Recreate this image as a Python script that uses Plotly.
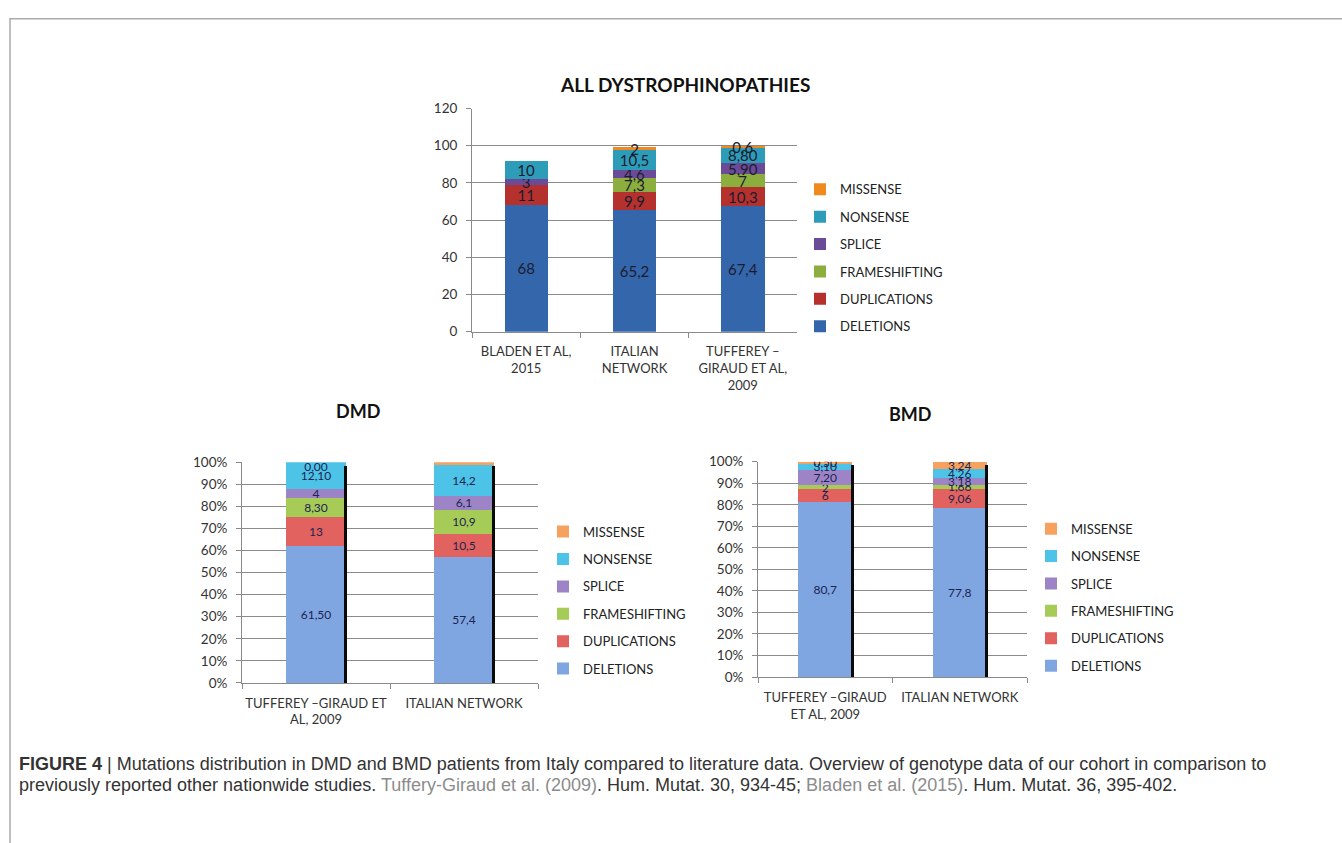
import plotly.graph_objects as go

W, H = 1342, 843

series = ["DELETIONS", "DUPLICATIONS", "FRAMESHIFTING", "SPLICE", "NONSENSE", "MISSENSE"]

# ALL DYSTROPHINOPATHIES
all_cats = ["BLADEN ET AL,<br>2015", "ITALIAN<br>NETWORK", "TUFFEREY –<br>GIRAUD ET AL,<br>2009"]
all_deletions = [68, 65.2, 67.4]
all_duplications = [11, 9.9, 10.3]
all_frameshifting = [None, 7.3, 7]
all_splice = [3, 4.6, 5.9]
all_nonsense = [10, 10.5, 8.8]
all_missense = [None, 2, 0.6]
all_labels = [["68", "65,2", "67,4"], ["11", "9,9", "10,3"], ["", "7,3", "7"],
              ["3", "4,6", "5,90"], ["10", "10,5", "8,80"], ["", "2", "0,6"]]

# DMD
dmd_cats = ["TUFFEREY –GIRAUD ET<br>AL, 2009", "ITALIAN NETWORK"]
dmd_deletions = [61.5, 57.4]
dmd_duplications = [13, 10.5]
dmd_frameshifting = [8.3, 10.9]
dmd_splice = [4, 6.1]
dmd_nonsense = [12.1, 14.2]
dmd_missense = [0.0, 1.2]
dmd_labels = [["61,50", "57,4"], ["13", "10,5"], ["8,30", "10,9"],
              ["4", "6,1"], ["12,10", "14,2"], ["0,00", "1,2"]]

# BMD
bmd_cats = ["TUFFEREY –GIRAUD<br>ET AL, 2009", "ITALIAN NETWORK"]
bmd_deletions = [80.7, 77.8]
bmd_duplications = [6, 9.06]
bmd_frameshifting = [2, 1.66]
bmd_splice = [7.2, 3.18]
bmd_nonsense = [3.1, 4.26]
bmd_missense = [0.5, 3.24]
bmd_labels = [["80,7", "77,8"], ["6", "9,06"], ["2", "1,66"],
              ["7,20", "3,18"], ["3,10", "4,26"], ["0,50", "3,24"]]

dark_colors = ["#3466AB", "#B5312E", "#8BAE3E", "#6B4B98", "#2C9CB9", "#F08A1E"]
light_colors = ["#80A6E2", "#E2625F", "#A6CB57", "#9C84C6", "#4EC3E8", "#F6A25E"]

FONT = "Lato"
GRID = "#8a8a8a"


def px_x(p):
    return p / W


def px_y(p):
    return 1 - p / H


fig = go.Figure()

all_vals = [all_deletions, all_duplications, all_frameshifting, all_splice, all_nonsense, all_missense]
for i, name in enumerate(series):
    fig.add_trace(go.Bar(
        x=all_cats, y=all_vals[i], name=name, marker=dict(color=dark_colors[i], line=dict(width=0)),
        text=all_labels[i], textposition="inside", insidetextanchor="middle", textangle=0,
        constraintext="none", textfont=dict(family=FONT, size=15, color="#1c1c30"),
        width=0.4, xaxis="x", yaxis="y", legend="legend", legendgroup="a" + name,
        legendrank=10 * (6 - i), hoverinfo="name+y"))


def percent(vals):
    tot = [sum(v[j] for v in vals) for j in range(len(vals[0]))]
    return [[v[j] / tot[j] * 100 for j in range(len(tot))] for v in vals]


dmd_raw = [dmd_deletions, dmd_duplications, dmd_frameshifting, dmd_splice, dmd_nonsense, dmd_missense]
bmd_raw = [bmd_deletions, bmd_duplications, bmd_frameshifting, bmd_splice, bmd_nonsense, bmd_missense]
dmd_vals = percent(dmd_raw)
bmd_vals = percent(bmd_raw)

for vals, labels, cats, xa, ya, lg in [(dmd_vals, dmd_labels, dmd_cats, "x2", "y2", "legend2"),
                                        (bmd_vals, bmd_labels, bmd_cats, "x3", "y3", "legend3")]:
    for i, name in enumerate(series):
        fig.add_trace(go.Bar(
            x=cats, y=vals[i], name=name, marker=dict(color=light_colors[i], line=dict(width=0)),
            text=labels[i], textposition="inside", insidetextanchor="middle", textangle=0,
            constraintext="none", textfont=dict(family=FONT, size=12, color="#1c2450"),
            width=0.4, xaxis=xa, yaxis=ya, legend=lg, legendgroup=lg + name,
            legendrank=10 * (6 - i), hoverinfo="name+y"))
    # labels of zero-height segments, placed at their stack position
    zx, zy, zt = [], [], []
    for j, c in enumerate(cats):
        cum = 0
        for i in range(len(series)):
            cum += vals[i][j]
            if vals[i][j] == 0:
                zx.append(c)
                zy.append(cum)
                zt.append(labels[i][j])
    if zx:
        fig.add_trace(go.Scatter(x=zx, y=zy, text=zt, mode="text", textposition="bottom center",
                                 textfont=dict(family=FONT, size=12, color="#1c2450"),
                                 xaxis=xa, yaxis=ya, showlegend=False, hoverinfo="skip",
                                 cliponaxis=False))

# bar shadows (right-edge dark lines)
shadow_top = 98.5
for cats, xa, ya in [(dmd_cats, "x4", "y2"), (bmd_cats, "x5", "y3")]:
    fig.add_trace(go.Bar(x=cats, y=[shadow_top] * len(cats), width=0.022, offset=0.19,
                         marker=dict(color="#0a0a0a", line=dict(width=0)),
                         xaxis=xa, yaxis=ya, showlegend=False, hoverinfo="skip"))

axis_common = dict(showline=True, linecolor=GRID, linewidth=1, zeroline=False,
                   tickfont=dict(family=FONT, size=13.5, color="#333333"))
xcommon = dict(type="category", ticks="outside", tickson="boundaries", ticklen=5, tickcolor=GRID,
               showgrid=False, ticklabelstandoff=8, tickangle=0, showline=True, linecolor=GRID,
               linewidth=1, zeroline=False, tickfont=dict(family=FONT, size=13, color="#333333"))
ycommon = dict(ticks="outside", ticklen=5, tickcolor=GRID, showgrid=True, gridcolor=GRID,
               gridwidth=1, ticklabelstandoff=6, **axis_common)

fig.update_layout(
    width=W, height=H, margin=dict(l=0, r=0, t=0, b=0),
    paper_bgcolor="white", plot_bgcolor="white",
    barmode="stack", showlegend=True,
    font=dict(family=FONT, color="#333333"),
    xaxis=dict(domain=[px_x(472), px_x(797)], anchor="y", **xcommon),
    yaxis=dict(domain=[px_y(330), px_y(102.5)], anchor="x", range=[0, 120], dtick=20, **ycommon),
    xaxis2=dict(domain=[px_x(242), px_x(538)], anchor="y2", **xcommon),
    yaxis2=dict(domain=[px_y(688), px_y(463)], anchor="x2", range=[0, 100], dtick=10,
                ticksuffix="%", **ycommon),
    xaxis3=dict(domain=[px_x(758), px_x(1027)], anchor="y3", **xcommon),
    yaxis3=dict(domain=[px_y(682), px_y(462.5)], anchor="x3", range=[0, 100], dtick=10,
                ticksuffix="%", **ycommon),
    xaxis4=dict(overlaying="x2", anchor="y2", type="category", range=[-0.5, 1.5],
                visible=False, categoryarray=dmd_cats, categoryorder="array"),
    xaxis5=dict(overlaying="x3", anchor="y3", type="category", range=[-0.5, 1.5],
                visible=False, categoryarray=bmd_cats, categoryorder="array"),
)

leg_common = dict(traceorder="grouped", tracegroupgap=7.5, xanchor="left", yanchor="top",
                  bgcolor="rgba(0,0,0,0)", font=dict(family=FONT, size=13, color="#222222"),
                  itemclick=False, itemdoubleclick=False)
fig.update_layout(
    legend=dict(x=px_x(800), y=px_y(169.5), **leg_common),
    legend2=dict(x=px_x(543), y=px_y(518.5), **leg_common),
    legend3=dict(x=px_x(1031), y=px_y(515.5), **leg_common),
)

titles = [("ALL DYSTROPHINOPATHIES", 685, 78, 19), ("DMD", 358, 411, 18), ("BMD", 910, 414, 18)]
for t, x, y, s in titles:
    fig.add_annotation(text="<b>" + t + "</b>", x=px_x(x), y=px_y(y), xref="paper", yref="paper",
                       showarrow=False, xanchor="center", yanchor="middle",
                       font=dict(family=FONT, size=s, color="#111111"))

caption_1 = ("<b>FIGURE 4</b> | Mutations distribution in DMD and BMD patients from Italy compared to "
             "literature data. Overview of genotype data of our cohort in comparison to")
caption_2 = ("previously reported other nationwide studies. <span style='color:#8c8c8c'>Tuffery-Giraud et al. "
             "(2009)</span>. Hum. Mutat. 30, 934-45; <span style='color:#8c8c8c'>Bladen et al. (2015)</span>. "
             "Hum. Mutat. 36, 395-402.")
for txt, y in [(caption_1, 771), (caption_2, 792)]:
    fig.add_annotation(text=txt, x=px_x(17), y=px_y(y), xref="paper", yref="paper",
                       showarrow=False, xanchor="left", yanchor="middle",
                       font=dict(family="Liberation Sans", size=18, color="#333333"))

fig.add_shape(type="rect", xref="paper", yref="paper", x0=px_x(10), x1=1.5, y0=-0.5, y1=px_y(11),
              line=dict(color="#aaaaaa", width=1.5), fillcolor="rgba(0,0,0,0)", layer="below")

fig.write_html("out.html", config={"displayModeBar": False},
               post_script="document.body.style.margin='0';document.body.style.padding='0';")
